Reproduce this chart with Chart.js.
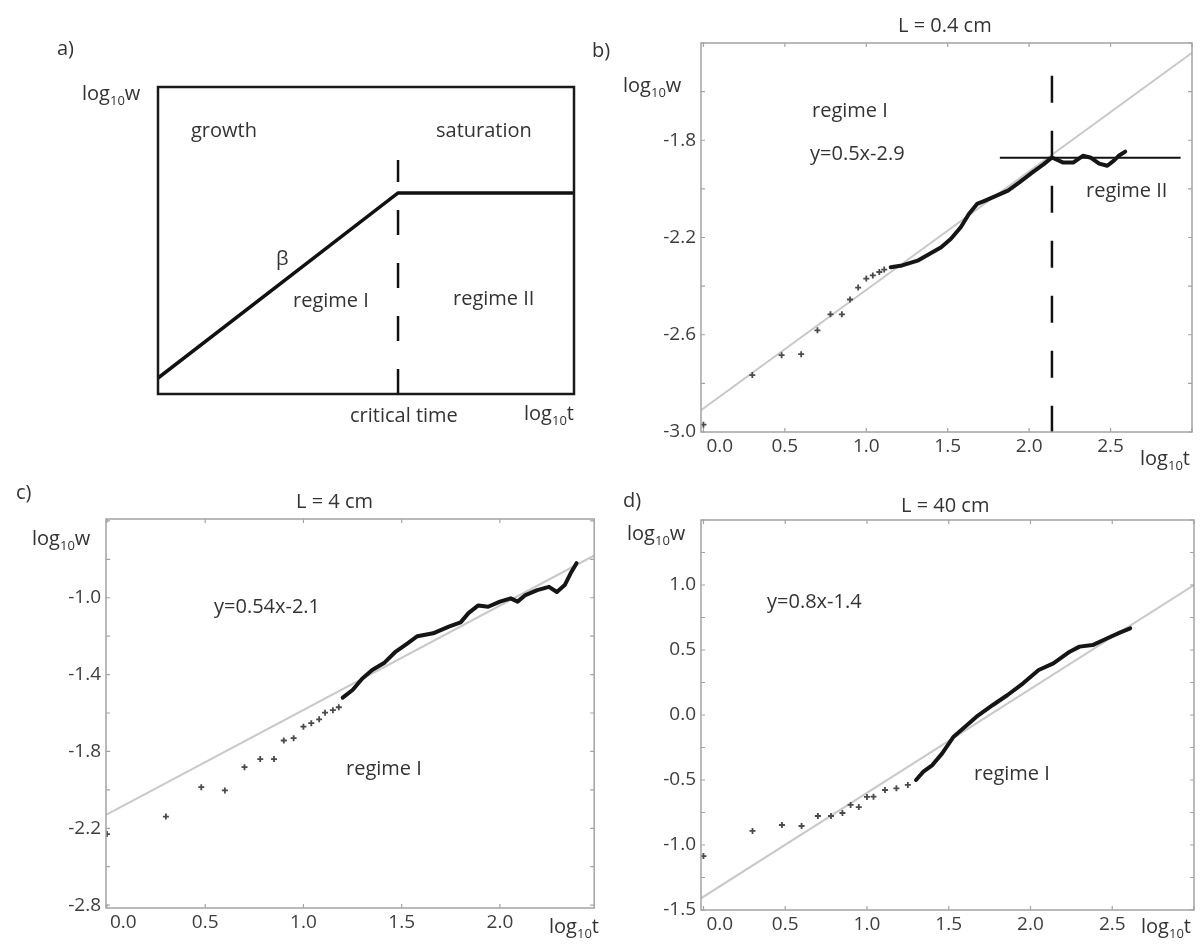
<!DOCTYPE html>
<html>
<head>
<meta charset="utf-8">
<script src="https://cdn.jsdelivr.net/npm/chart.js@4.4.1/dist/chart.umd.min.js"></script>
<style>
  body { margin: 0; background: #fff; }
  #page { position: relative; width: 1202px; height: 947px; overflow: hidden; font-family: "Open Sans", sans-serif; color: #333; }
  canvas { position: absolute; }
  .t { position: absolute; white-space: nowrap; font-size: 20px; line-height: 1; }
  .t sub { font-size: 13px; vertical-align: -5px; line-height: 0; }
</style>
</head>
<body>
<div id="page">
  <canvas id="chartA" style="left:0;top:0" width="600" height="470"></canvas>
  <canvas id="chartB" style="left:600px;top:0" width="602" height="470"></canvas>
  <canvas id="chartC" style="left:0;top:470px" width="600" height="477"></canvas>
  <canvas id="chartD" style="left:600px;top:470px" width="602" height="477"></canvas>

  <div class="t" style="left:57px;top:38px">a)</div>
  <div class="t" style="left:82px;top:83px">log<sub>10</sub>w</div>
  <div class="t" style="left:191px;top:120px">growth</div>
  <div class="t" style="left:436px;top:120px">saturation</div>
  <div class="t" style="left:276px;top:248px">β</div>
  <div class="t" style="left:293px;top:290px">regime I</div>
  <div class="t" style="left:453px;top:288px">regime II</div>
  <div class="t" style="left:350px;top:405px">critical time</div>
  <div class="t" style="left:524px;top:403px">log<sub>10</sub>t</div>

  <div class="t" style="left:592px;top:40px">b)</div>
  <div class="t" style="left:898px;top:15px">L = 0.4 cm</div>
  <div class="t" style="left:623px;top:75px">log<sub>10</sub>w</div>
  <div class="t" style="left:812px;top:100px">regime I</div>
  <div class="t" style="left:810px;top:143px">y=0.5x-2.9</div>
  <div class="t" style="left:1086px;top:180px">regime II</div>
  <div class="t" style="left:1140px;top:448px">log<sub>10</sub>t</div>

  <div class="t" style="left:16px;top:482px">c)</div>
  <div class="t" style="left:296px;top:491px">L = 4 cm</div>
  <div class="t" style="left:32px;top:528px">log<sub>10</sub>w</div>
  <div class="t" style="left:214px;top:596px">y=0.54x-2.1</div>
  <div class="t" style="left:346px;top:758px">regime I</div>
  <div class="t" style="left:549px;top:916px">log<sub>10</sub>t</div>

  <div class="t" style="left:623px;top:490px">d)</div>
  <div class="t" style="left:901px;top:495px">L = 40 cm</div>
  <div class="t" style="left:627px;top:523px">log<sub>10</sub>w</div>
  <div class="t" style="left:767px;top:591px">y=0.8x-1.4</div>
  <div class="t" style="left:974px;top:763px">regime I</div>
  <div class="t" style="left:1141px;top:916px">log<sub>10</sub>t</div>
</div>

<script>
// a) schematic: growth line with a kink at the critical time
const aLineX = [0, 0.577, 1];
const aLineY = [0.052, 0.655, 0.655];
const aCritX = [0.577, 0.577];
const aCritY = [0, 0.762];

// b) L = 0.4 cm
const bSparseX = [0, 0.30, 0.48, 0.60, 0.70, 0.78, 0.85, 0.90, 0.95, 1.0, 1.04, 1.08, 1.11];
const bSparseY = [-2.97, -2.766, -2.684, -2.680, -2.582, -2.516, -2.516, -2.455, -2.406, -2.369, -2.356, -2.342, -2.332];
const bDenseX = [1.15, 1.22, 1.32, 1.39, 1.46, 1.52, 1.58, 1.63, 1.68, 1.73, 1.80, 1.87, 1.94, 2.02, 2.09, 2.14,
                 2.21, 2.27, 2.33, 2.38, 2.43, 2.48, 2.52, 2.55, 2.59];
const bDenseY = [-2.322, -2.315, -2.294, -2.267, -2.240, -2.205, -2.158, -2.103, -2.062, -2.048, -2.028, -2.007, -1.973, -1.932, -1.898, -1.871,
                 -1.892, -1.892, -1.864, -1.872, -1.896, -1.905, -1.884, -1.864, -1.847];
const bFitX = [-0.015, 3.0];
const bFitY = [-2.91, -1.44];
const bSatX = [1.82, 2.93];
const bSatY = [-1.872, -1.872];
const bCritX = [2.14, 2.14];
const bCritY = [-1.535, -3.0];
const bXTicks = [0, 0.5, 1, 1.5, 2, 2.5, 3];
const bXTickLabels = ['\u2007\u2007\u20070.0', '0.5', '1.0', '1.5', '2.0', '2.5', ''];
const bYTicks = [-3.0, -2.8, -2.6, -2.4, -2.2, -2.0, -1.8, -1.6, -1.4];
const bYTickLabels = ['-3.0', '', '-2.6', '', '-2.2', '', '-1.8', '', ''];

// c) L = 4 cm
const cSparseX = [0, 0.30, 0.48, 0.60, 0.70, 0.78, 0.85, 0.90, 0.95, 1.0, 1.04, 1.08, 1.11, 1.15, 1.18];
const cSparseY = [-2.23, -2.139, -1.986, -2.003, -1.882, -1.84, -1.84, -1.743, -1.731, -1.671, -1.653, -1.633, -1.598, -1.585, -1.57];
const cDenseX = [1.20, 1.25, 1.30, 1.35, 1.41, 1.47, 1.53, 1.58, 1.66, 1.74, 1.80, 1.84, 1.89, 1.94, 2.0, 2.055, 2.09, 2.13,
                 2.19, 2.25, 2.29, 2.33, 2.36, 2.39];
const cDenseY = [-1.52, -1.48, -1.42, -1.376, -1.34, -1.28, -1.237, -1.20, -1.185, -1.15, -1.128, -1.08, -1.04, -1.047, -1.02, -1.003, -1.02, -0.986,
                 -0.96, -0.943, -0.97, -0.934, -0.873, -0.82];
const cFitX = [-0.005, 2.48];
const cFitY = [-2.13, -0.78];
const cXTicks = [0, 0.5, 1, 1.5, 2];
const cXTickLabels = ['\u2007\u2007\u20070.0', '0.5', '1.0', '1.5', '2.0'];
const cYTicks = [-2.6, -2.4, -2.2, -2.0, -1.8, -1.6, -1.4, -1.2, -1.0, -0.8, -0.6];
const cYTickLabels = ['-2.8', '', '-2.2', '', '-1.8', '', '-1.4', '', '-1.0', '', ''];

// d) L = 40 cm
const dSparseX = [0, 0.30, 0.48, 0.60, 0.70, 0.78, 0.85, 0.90, 0.95, 1.0, 1.04, 1.11, 1.18, 1.25];
const dSparseY = [-1.085, -0.892, -0.846, -0.854, -0.777, -0.777, -0.754, -0.692, -0.708, -0.63, -0.628, -0.577, -0.564, -0.538];
const dDenseX = [1.30, 1.345, 1.40, 1.46, 1.53, 1.60, 1.67, 1.77, 1.86, 1.955, 2.05, 2.14, 2.24,
                 2.30, 2.38, 2.47, 2.55, 2.61];
const dDenseY = [-0.5, -0.436, -0.385, -0.295, -0.167, -0.09, -0.013, 0.077, 0.154, 0.244, 0.346, 0.397, 0.487,
                 0.526, 0.538, 0.59, 0.636, 0.667];
const dFitX = [-0.015, 3.0];
const dFitY = [-1.41, 1.0];
const dXTicks = [0, 0.5, 1, 1.5, 2, 2.5, 3];
const dXTickLabels = ['\u2007\u2007\u20070.0', '0.5', '1.0', '1.5', '2.0', '2.5', ''];
const dYTicks = [-1.5, -1.25, -1.0, -0.75, -0.5, -0.25, 0, 0.25, 0.5, 0.75, 1.0, 1.25, 1.5];
const dYTickLabels = ['-1.5', '', '-1.0', '', '-0.5', '', '0.0', '', '0.5', '', '1.0', '', ''];

Chart.defaults.font.family = '"Open Sans", sans-serif';

const pts = (xs, ys) => xs.map((x, i) => ({ x: x, y: ys[i] }));

// box round the plot area plus small inward tick marks on all four sides
const frame = {
  id: 'frame',
  afterDatasetsDraw(chart, args, opts) {
    const { ctx, chartArea: a } = chart;
    ctx.save();
    ctx.strokeStyle = opts.color;
    ctx.lineWidth = opts.width;
    ctx.strokeRect(a.left, a.top, a.right - a.left, a.bottom - a.top);
    if (opts.ticks) {
      const x = chart.scales.x, y = chart.scales.y, len = 4;
      ctx.lineWidth = 1.2;
      ctx.beginPath();
      x.ticks.forEach(t => {
        const px = x.getPixelForValue(t.value);
        ctx.moveTo(px, a.bottom); ctx.lineTo(px, a.bottom - len);
        ctx.moveTo(px, a.top); ctx.lineTo(px, a.top + len);
      });
      y.ticks.forEach(t => {
        const py = y.getPixelForValue(t.value);
        ctx.moveTo(a.left, py); ctx.lineTo(a.left + len, py);
        ctx.moveTo(a.right, py); ctx.lineTo(a.right - len, py);
      });
      ctx.stroke();
    }
    ctx.restore();
  }
};

function axis(a, horizontal) {
  return {
    type: 'linear',
    display: a.show !== false,
    min: a.min,
    max: a.max,
    grid: { display: false, drawTicks: false },
    border: { display: false },
    afterBuildTicks: ax => { if (a.ticks) ax.ticks = a.ticks.map(v => ({ value: v })); },
    afterFit: ax => {
      if (a.size === undefined) return;
      if (horizontal) ax.height = a.size; else ax.width = a.size;
    },
    ticks: {
      autoSkip: false,
      maxRotation: 0,
      padding: horizontal ? 3 : 5,
      color: '#3d3d3d',
      font: { size: 19 },
      callback: (v, i) => (a.labels ? a.labels[i] : '')
    }
  };
}

function panel(id, o) {
  return new Chart(document.getElementById(id), {
    type: 'scatter',
    data: { datasets: o.datasets },
    options: {
      responsive: false,
      animation: false,
      events: [],
      layout: { padding: o.pad },
      plugins: {
        legend: { display: false },
        tooltip: { enabled: false },
        frame: o.frame
      },
      scales: { x: axis(o.x, true), y: axis(o.y, false) }
    },
    plugins: [frame]
  });
}

const dense = (xs, ys) => ({ data: pts(xs, ys), showLine: true, pointRadius: 0, borderColor: '#151515', borderWidth: 4, borderJoinStyle: 'round', borderCapStyle: 'round' });
const sparse = (xs, ys) => ({ data: pts(xs, ys), showLine: false, pointStyle: 'cross', pointRadius: 3, borderColor: '#4a4a4a', borderWidth: 1.8 });
const fit = (xs, ys) => ({ data: pts(xs, ys), showLine: true, pointRadius: 0, borderColor: '#c9c9c9', borderWidth: 2 });
const grayFrame = { color: '#a3a3a3', width: 1.5, ticks: true };

panel('chartA', {
  pad: { left: 158, top: 87, right: 26, bottom: 76 },
  frame: { color: '#1a1a1a', width: 2.5, ticks: false },
  x: { show: false, min: 0, max: 1 },
  y: { show: false, min: 0, max: 1 },
  datasets: [
    { data: pts(aLineX, aLineY), showLine: true, pointRadius: 0, borderColor: '#111', borderWidth: 3.5 },
    { data: pts(aCritX, aCritY), showLine: true, pointRadius: 0, borderColor: '#111', borderWidth: 2.5, borderDash: [25, 28] }
  ]
});

panel('chartB', {
  pad: { left: 0, top: 43, right: 10, bottom: 0 },
  frame: grayFrame,
  x: { min: -0.015, max: 3.0, ticks: bXTicks, labels: bXTickLabels, size: 38 },
  y: { min: -3.0, max: -1.4, ticks: bYTicks, labels: bYTickLabels, size: 101 },
  datasets: [
    dense(bDenseX, bDenseY),
    { data: pts(bSatX, bSatY), showLine: true, pointRadius: 0, borderColor: '#111', borderWidth: 2 },
    { data: pts(bCritX, bCritY), showLine: true, pointRadius: 0, borderColor: '#111', borderWidth: 2.5, borderDash: [27, 28] },
    sparse(bSparseX, bSparseY),
    fit(bFitX, bFitY)
  ]
});

panel('chartC', {
  pad: { left: 0, top: 49, right: 1, bottom: 0 },
  frame: grayFrame,
  x: { min: -0.005, max: 2.48, ticks: cXTicks, labels: cXTickLabels, size: 39 },
  y: { min: -2.615, max: -0.59, ticks: cYTicks, labels: cYTickLabels, size: 106 },
  datasets: [
    dense(cDenseX, cDenseY),
    sparse(cSparseX, cSparseY),
    fit(cFitX, cFitY)
  ]
});

panel('chartD', {
  pad: { left: 0, top: 50, right: 8, bottom: 0 },
  frame: grayFrame,
  x: { min: -0.015, max: 3.0, ticks: dXTicks, labels: dXTickLabels, size: 37 },
  y: { min: -1.5, max: 1.5, ticks: dYTicks, labels: dYTickLabels, size: 101 },
  datasets: [
    dense(dDenseX, dDenseY),
    sparse(dSparseX, dSparseY),
    fit(dFitX, dFitY)
  ]
});
</script>
</body>
</html>
